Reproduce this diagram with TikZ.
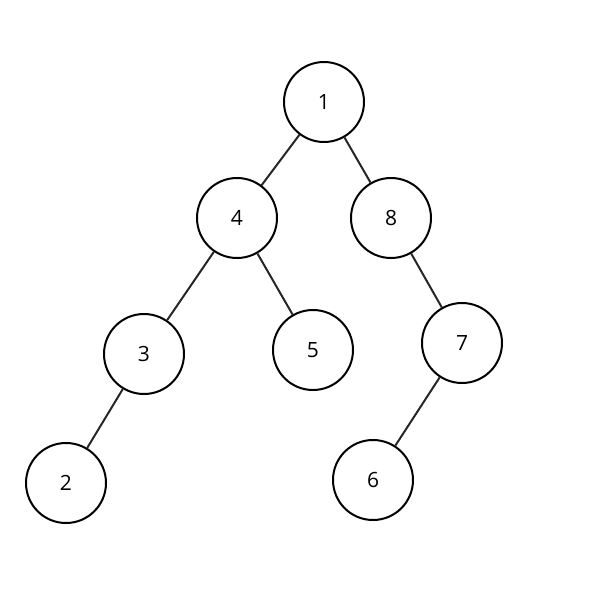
\documentclass[tikz,border=0pt]{standalone}
\usepackage{fontspec}
\setmainfont{Open Sans}
\begin{document}
\begin{tikzpicture}[x=1pt,y=-1pt,
  vert/.style={circle,draw=black,line width=2pt,minimum size=80pt,inner sep=0pt,fill=white,font=\fontsize{21}{25}\selectfont},
  edge/.style={line width=2pt,draw=black!85}]
\useasboundingbox (0,0) rectangle (600,600);
\node[vert] (n1) at (324,102) {1};
\node[vert] (n4) at (237,218) {4};
\node[vert] (n8) at (391,218) {8};
\node[vert] (n3) at (144,354) {3};
\node[vert] (n5) at (313,350) {5};
\node[vert] (n7) at (462,343) {7};
\node[vert] (n2) at (66,483) {2};
\node[vert] (n6) at (373,480) {6};
\draw[edge] (n1) -- (n4);
\draw[edge] (n1) -- (n8);
\draw[edge] (n4) -- (n3);
\draw[edge] (n4) -- (n5);
\draw[edge] (n8) -- (n7);
\draw[edge] (n3) -- (n2);
\draw[edge] (n7) -- (n6);
\end{tikzpicture}
\end{document}
